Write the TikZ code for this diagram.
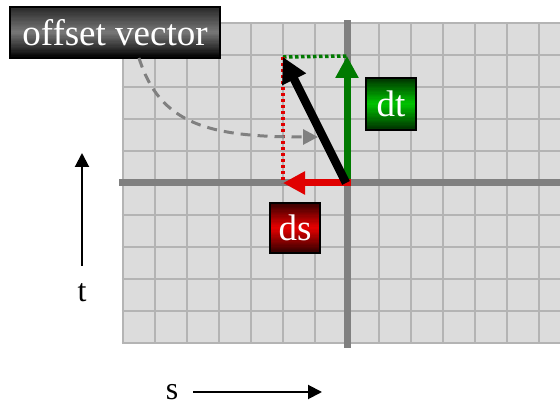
\documentclass[tikz,border=0pt]{standalone}
\usepackage{fontspec}
\setmainfont{Liberation Serif}
\usetikzlibrary{arrows.meta}
\definecolor{gridfill}{HTML}{DCDCDC}
\definecolor{gridline}{HTML}{B4B4B4}
\definecolor{axisgray}{HTML}{808080}
\definecolor{vgreen}{HTML}{007A00}
\definecolor{vred}{HTML}{E00000}
\definecolor{dkgreen}{HTML}{003000}
\definecolor{brgreen}{HTML}{00C400}
\definecolor{dkred}{HTML}{300000}
\definecolor{brred}{HTML}{E80000}
\definecolor{dkgrey}{HTML}{262626}
\definecolor{mdgrey}{HTML}{787878}
\definecolor{blk}{HTML}{000000}
% gradient strips: #1 left, #2 bottom, #3 width, #4 height, #5 top, #6 middle, #7 bottom colour
\newcommand{\gradstrips}[7]{%
  \foreach \k in {0,...,39}{%
    \pgfmathsetmacro{\f}{(\k+0.5)/40}%
    \pgfmathtruncatemacro{\p}{\f<0.5 ? 100*(1-2*\f) : 100*(2-2*\f)}%
    \pgfmathtruncatemacro{\up}{\f<0.5 ? 1 : 0}%
    \ifnum\up=1 \colorlet{stripcol}{#5!\p!#6}\else\colorlet{stripcol}{#6!\p!#7}\fi
    \fill[stripcol] (#1,{#2+#4-(\k+1)*#4/40-0.3}) rectangle (#1+#3,{#2+#4-\k*#4/40});
  }%
}
\tikzset{
  labelbox/.style={draw=black, line width=1.2pt, text=white, inner sep=0pt, font=\fontsize{37}{37}\selectfont},
  axisline/.style={axisgray, line width=7pt},
  vecarrow/.style={line width=7pt, -{Triangle[length=22pt,width=22pt]}},
  helperline/.style={line width=3.5pt, dash pattern=on 3.5pt off 2.5pt},
  axlabel/.style={font=\fontsize{32}{32}\selectfont, inner sep=0pt},
  dirarrow/.style={line width=2pt, -{Triangle[length=14pt,width=14pt]}},
}
\begin{document}
\begin{tikzpicture}[x=1pt,y=1pt]
\useasboundingbox (0,0) rectangle (560,406);
% grid
\begin{scope}
\clip (0,0) rectangle (560,406);
\fill[gridfill] (123,63) rectangle (600,383);
\foreach \i in {0,...,14} \draw[gridline, line width=2.7pt] (123+32*\i,63) -- (123+32*\i,383);
\foreach \j in {0,...,10} \draw[gridline, line width=2.7pt] (121.65,63+32*\j) -- (600,63+32*\j);
\draw[axisline] (119,223) -- (600,223);
\end{scope}
\draw[axisline] (347,58) -- (347,386);
% coordinates
\coordinate (O) at (347,223);
\coordinate (Ostart) at (351,223);
\coordinate (T) at (347,350);
\coordinate (S) at (283,223);
\coordinate (P) at (283,349);
% dotted helper lines
\draw[vgreen, helperline] (P) -- (T);
\draw[vred, helperline] (P) -- (S);
% vectors
\draw[vecarrow, vgreen] (O) -- (T);
\draw[vecarrow, vred] (Ostart) -- (S);
\draw[line width=8.5pt, -{Triangle[length=25pt,width=25pt]}] (346,223) -- (P);
% label boxes
\gradstrips{10}{348}{210}{51}{dkgrey}{mdgrey}{blk}
\node[labelbox, minimum width=210pt, minimum height=51pt] (off) at (115,373.5) {offset vector};
\gradstrips{366}{276}{50}{52}{dkgreen}{brgreen}{dkgreen}
\node[labelbox, minimum width=50pt, minimum height=52pt] (dt) at (391,302) {dt};
\gradstrips{270}{153}{50}{50}{dkred}{brred}{dkred}
\node[labelbox, minimum width=50pt, minimum height=50pt] (ds) at (295,178) {ds};
% dashed curve
\coordinate (c0) at (139,348);
\coordinate (c1) at (318,269);
\draw[axisgray, line width=3pt, dash pattern=on 10pt off 7pt, -{Triangle[length=15pt,width=15pt]}] (c0) .. controls (160,281) and (210,269) .. (c1);
% axis direction labels
\node[axlabel] (tl) at (82,113) {t};
\coordinate (ttail) at (82,140);
\coordinate (ttip) at (82,253);
\draw[dirarrow] (ttail) -- (ttip);
\node[axlabel] (sl) at (172,14) {s};
\coordinate (stail) at (193,14);
\coordinate (stip) at (322,14);
\draw[dirarrow] (stail) -- (stip);
\end{tikzpicture}
\end{document}
